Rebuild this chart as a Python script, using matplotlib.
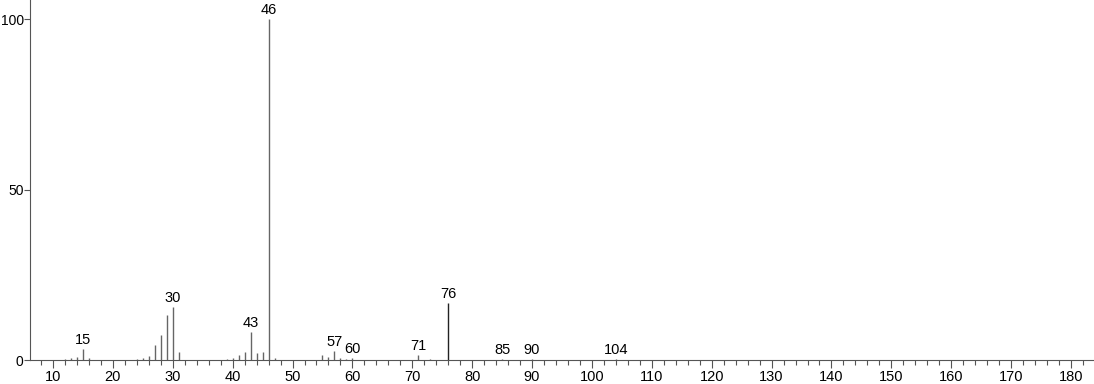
import matplotlib
matplotlib.use("Agg")
import matplotlib.pyplot as plt
from matplotlib.ticker import MultipleLocator

plt.rcParams['font.family'] = ['Liberation Sans', 'DejaVu Sans']

mz = [12, 13, 14, 15, 16, 24, 25, 26, 27, 28, 29, 30, 31,
      39, 40, 41, 42, 43, 44, 45, 46, 47,
      55, 56, 57, 58, 59, 60, 71, 73, 76, 85, 90, 104]
intensity = [0.3, 0.5, 1.0, 3.2, 0.5, 0.3, 0.6, 1.3, 4.4, 7.3, 13.3, 15.5, 2.3,
             0.3, 0.6, 1.4, 2.3, 8.1, 2.0, 2.3, 100.0, 0.5,
             1.4, 0.9, 2.6, 0.6, 0.3, 0.6, 1.5, 0.3, 16.6, 0.3, 0.3, 0.4]
labeled = [15, 30, 43, 46, 57, 60, 71, 76, 85, 90, 104]
dark_peaks = [76]

fig = plt.figure(figsize=(10.94, 3.84), dpi=100)
ax = fig.add_axes([30/1094, 24/384, 1064/1094, 360/384])

for m, h in zip(mz, intensity):
    col = '#222222' if m in dark_peaks else '#666666'
    ax.vlines(m, 0, h, color=col, linewidth=1.0)
    if m in labeled:
        ax.annotate(str(m), (m, h), xytext=(0, 1.5), textcoords='offset points',
                    ha='center', va='bottom', fontsize=10.5, color='black')

ax.set_xlim(6.16, 183.84)
ax.set_ylim(0, 105.6)
ax.xaxis.set_major_locator(MultipleLocator(10))
ax.xaxis.set_minor_locator(MultipleLocator(2))
ax.set_yticks([0, 50, 100])
ax.tick_params(axis='x', which='major', length=6, width=0.8, color='#555555', labelsize=10.5, pad=1.5)
ax.tick_params(axis='x', which='minor', length=3.5, width=0.8, color='#555555')
ax.tick_params(axis='y', which='major', length=4, width=0.8, color='#555555', labelsize=10, pad=0.5)
for s in ['top', 'right']:
    ax.spines[s].set_visible(False)
for s in ['left', 'bottom']:
    ax.spines[s].set_color('#555555')
    ax.spines[s].set_linewidth(0.8)

fig.savefig('out.png', dpi=100)
